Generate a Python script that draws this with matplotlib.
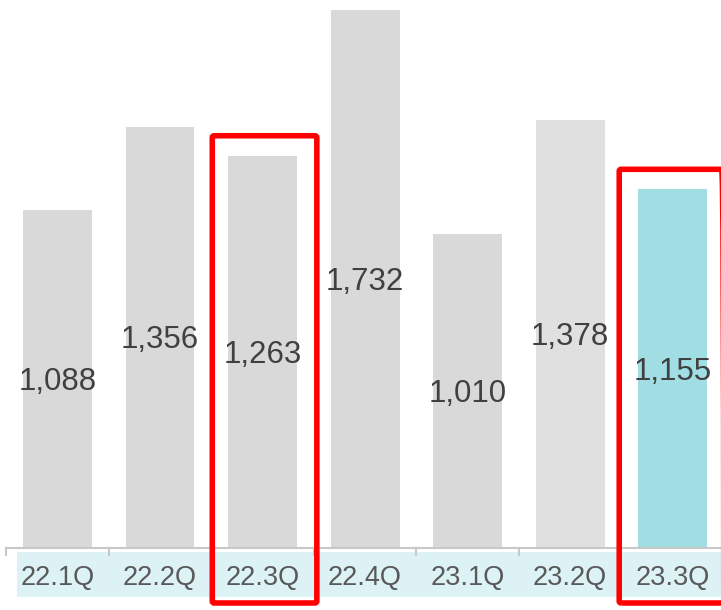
import numpy as np
import matplotlib.pyplot as plt
from matplotlib.patches import Rectangle, FancyBboxPatch

# Data
quarters = ['22.1Q', '22.2Q', '22.3Q', '22.4Q', '23.1Q', '23.2Q', '23.3Q']
values = [1088, 1356, 1263, 1732, 1010, 1378, 1155]
bar_colors = ['#D9D9D9', '#D9D9D9', '#D9D9D9', '#D9D9D9', '#D9D9D9', '#E0E0E0', '#A0DEE4']
highlight = ['22.3Q', '23.3Q']

plt.rcParams['font.family'] = ['Liberation Sans', 'DejaVu Sans']

fig = plt.figure(figsize=(7.21, 6.10), dpi=100)
ax = fig.add_axes([0, 62 / 610, 1, 548 / 610])

x = np.arange(len(quarters))
ax.bar(x, values, width=0.673, color=bar_colors, zorder=2)
ax.set_xlim(-0.561, 6.473)
ax.set_ylim(0, 1764)
ax.axis('off')

# value labels in the middle of each bar
for xi, v in zip(x, values):
    ax.text(xi, v / 2 - 10, f'{v:,}', ha='center', va='center', fontsize=22.5,
            color='#404040', zorder=4)

# category band
ax.add_patch(Rectangle((-0.4, -158), 7.2, 145, facecolor='#DDF2F5',
                       edgecolor='none', clip_on=False, zorder=1))
for xi, q in zip(x, quarters):
    ax.text(xi, -98, q, ha='center', va='center', fontsize=19.5,
            color='#595959', zorder=4)

# axis line and ticks
ax.plot([-0.5, 7], [0, 0], color='#C8C8C8', lw=1.5, clip_on=False, zorder=3)
for b in np.arange(-0.5, 7, 1.0):
    ax.plot([b, b], [0, -24], color='#C8C8C8', lw=1.5, clip_on=False, zorder=3)

# red highlight boxes
for q, dx in zip(highlight, [-0.49, -0.52]):
    i = quarters.index(q)
    top = values[i] + 64
    ax.add_patch(FancyBboxPatch((i + dx, -177), 1.02, top + 177,
                                boxstyle='round,pad=0,rounding_size=0.02',
                                fill=False, edgecolor='#FF0000', lw=4,
                                clip_on=False, zorder=5,
                                mutation_aspect=300))

fig.savefig('out.png', dpi=100)
